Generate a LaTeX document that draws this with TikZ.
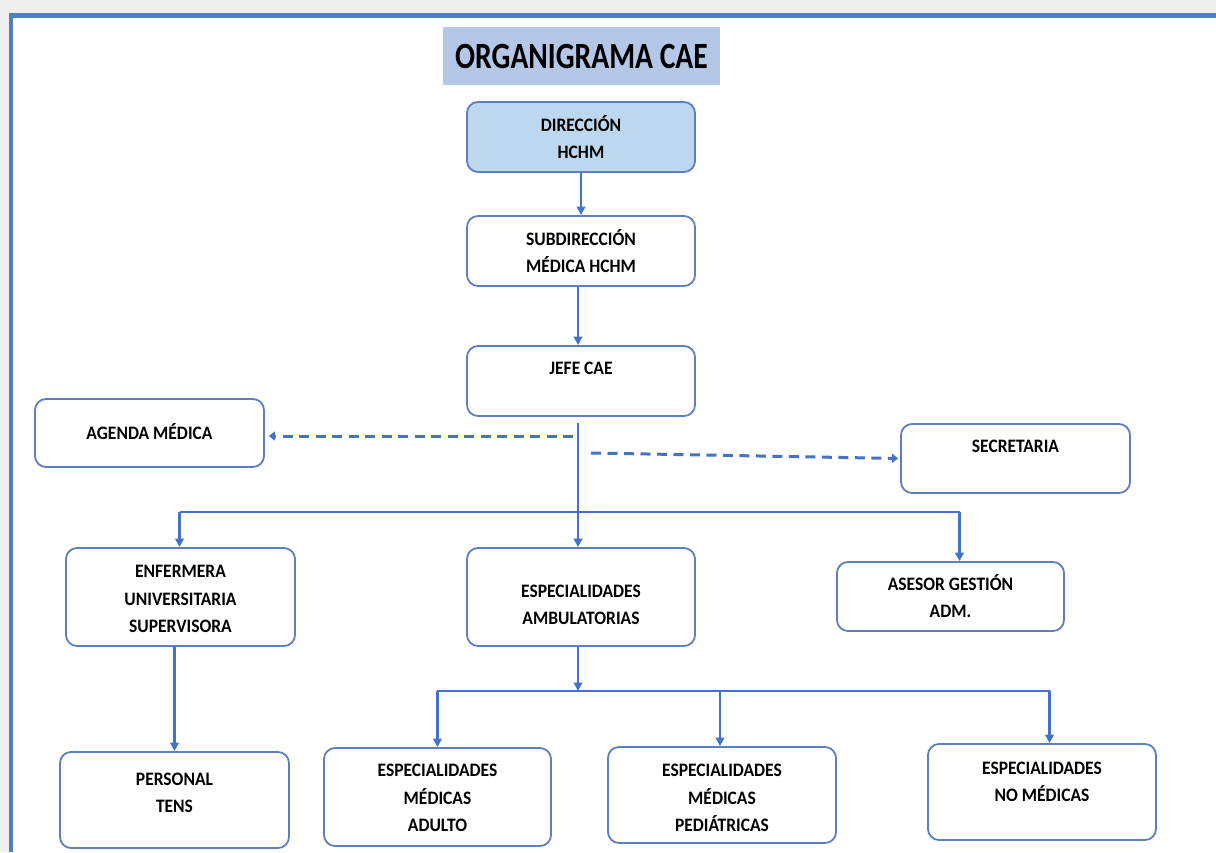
\documentclass[tikz,border=0pt]{standalone}
\usepackage{fontspec}
\usetikzlibrary{arrows.meta}
\newfontfamily\boxfont{Carlito}[FakeStretch=0.92]
\newfontfamily\titlefont{Carlito}[FakeStretch=0.8]
\definecolor{frameblue}{HTML}{4F81BD}
\definecolor{linkblue}{HTML}{4472C4}
\definecolor{edgeblue}{HTML}{5D7FC0}
\definecolor{titlefill}{HTML}{B4C7E7}
\definecolor{headfill}{HTML}{BDD7EE}
\definecolor{pagegray}{HTML}{EEEEEE}
% strut with height - depth = cap height, so lines centre on their capitals
\newcommand\lnstrut{\rule[-4.76pt]{0pt}{21.76pt}}
\tikzset{
  unitbox/.style={draw=edgeblue, line width=1.8pt, rounded corners=11pt,
    fill=white, inner sep=0pt},
  boxtext/.style={align=center, inner sep=0pt,
    font=\boxfont\bfseries\fontsize{19}{27.5}\selectfont},
  link/.style={draw=linkblue, line width=2.4pt},
  arr/.style={link, -{Triangle[width=8.5pt,length=8.5pt]}},
  dasharr/.style={draw=linkblue, line width=3pt, dash pattern=on 10pt off 6.5pt,
    -{Triangle[width=9pt,length=6pt]}},
}
\begin{document}
\begin{tikzpicture}[x=1pt,y=-1pt]
\useasboundingbox (0,0) rectangle (1216,852);
% page and frame
\fill[pagegray] (0,0) rectangle (1216,852);
\fill[white] (11,16) rectangle (1216,852);
\draw[frameblue, line width=5pt] (9,15.8) -- (1216,15.8);
\draw[frameblue, line width=4.4pt] (11.2,13.3) -- (11.2,852);

% title
\node[fill=titlefill, minimum width=277pt, minimum height=58pt, inner sep=0pt,
  font=\titlefont\bfseries\fontsize{37}{40}\selectfont] (title) at (581.5,56) {ORGANIGRAMA CAE};

% boxes
\node[unitbox, fill=headfill, minimum width=228pt, minimum height=70pt] (dir) at (581,137) {};
\node[unitbox, minimum width=228pt, minimum height=70pt] (sub) at (581,251) {};
\node[unitbox, minimum width=228pt, minimum height=70pt] (jefe) at (581,381) {};
\node[unitbox, minimum width=229pt, minimum height=68pt] (agenda) at (149.5,433) {};
\node[unitbox, minimum width=229pt, minimum height=69pt] (secr) at (1015.5,458.5) {};
\node[unitbox, minimum width=229pt, minimum height=98pt] (enf) at (180.5,597) {};
\node[unitbox, minimum width=228pt, minimum height=98pt] (amb) at (581,597) {};
\node[unitbox, minimum width=227pt, minimum height=69pt] (ases) at (950.5,596.5) {};
\node[unitbox, minimum width=229pt, minimum height=96pt] (pers) at (174.5,800) {};
\node[unitbox, minimum width=227pt, minimum height=98pt] (adult) at (437.5,797) {};
\node[unitbox, minimum width=228pt, minimum height=96pt] (pedi) at (722,795) {};
\node[unitbox, minimum width=228pt, minimum height=96pt] (nomed) at (1042,792) {};

% box labels
\node[boxtext] (dir-t) at (581,139) {DIRECCIÓN\lnstrut\\HCHM\lnstrut};
\node[boxtext] (sub-t) at (581,253) {SUBDIRECCIÓN\lnstrut\\MÉDICA HCHM\lnstrut};
\node[boxtext] (jefe-t) at (581,368) {JEFE CAE\lnstrut};
\node[boxtext] (agenda-t) at (149.5,433) {AGENDA MÉDICA\lnstrut};
\node[boxtext] (secr-t) at (1015.5,446) {SECRETARIA\lnstrut};
\node[boxtext] (enf-t) at (180.5,599) {ENFERMERA\lnstrut\\UNIVERSITARIA\lnstrut\\SUPERVISORA\lnstrut};
\node[boxtext] (amb-t) at (581,605) {ESPECIALIDADES\lnstrut\\AMBULATORIAS\lnstrut};
\node[boxtext] (ases-t) at (950.5,598) {ASESOR GESTIÓN\lnstrut\\ADM.\lnstrut};
\node[boxtext] (pers-t) at (174.5,793) {PERSONAL\lnstrut\\TENS\lnstrut};
\node[boxtext] (adult-t) at (437.5,798) {ESPECIALIDADES\lnstrut\\MÉDICAS\lnstrut\\ADULTO\lnstrut};
\node[boxtext] (pedi-t) at (722,798) {ESPECIALIDADES\lnstrut\\MÉDICAS\lnstrut\\PEDIÁTRICAS\lnstrut};
\node[boxtext] (nomed-t) at (1042,782) {ESPECIALIDADES\lnstrut\\NO MÉDICAS\lnstrut};

% junction points
\coordinate (trunk) at (578,423);
\coordinate (lsrc) at (573,436);
\coordinate (rsrc) at (591,453);
\coordinate (barL) at (179.5,512);
\coordinate (barR) at (959.5,512);
\coordinate (bar2) at (578,691);
\coordinate (bar2L) at (436.5,691);
\coordinate (bar2R) at (1049.5,691);

% hierarchy
\draw[arr] (dir.south) -- (sub.north);
\draw[arr] ([xshift=-3pt]sub.south) -- ([xshift=-3pt]jefe.north);
\draw[arr] (trunk) -- (trunk |- amb.north);
\draw[link] (barL) -- (barR);
\draw[arr] (barL) -- (barL |- enf.north);
\draw[arr] (barR) -- (barR |- ases.north);
\draw[arr] (pers.north |- enf.south) -- (pers.north);

% staff links
\draw[dasharr, shorten >=4pt] (lsrc) -- (lsrc -| agenda.east);
\draw[dasharr, shorten >=2pt] (rsrc) -- (secr.west);

% specialities
\draw[arr] (bar2 |- amb.south) -- (bar2);
\draw[link] (bar2L) -- (bar2R);
\draw[arr] ([xshift=1pt]bar2L) -- ([xshift=1pt]bar2L |- adult.north);
\draw[arr] (bar2L -| 720,0) -- (pedi.north -| 720,0);
\draw[arr] (bar2R) -- (bar2R |- nomed.north);
\end{tikzpicture}
\end{document}
